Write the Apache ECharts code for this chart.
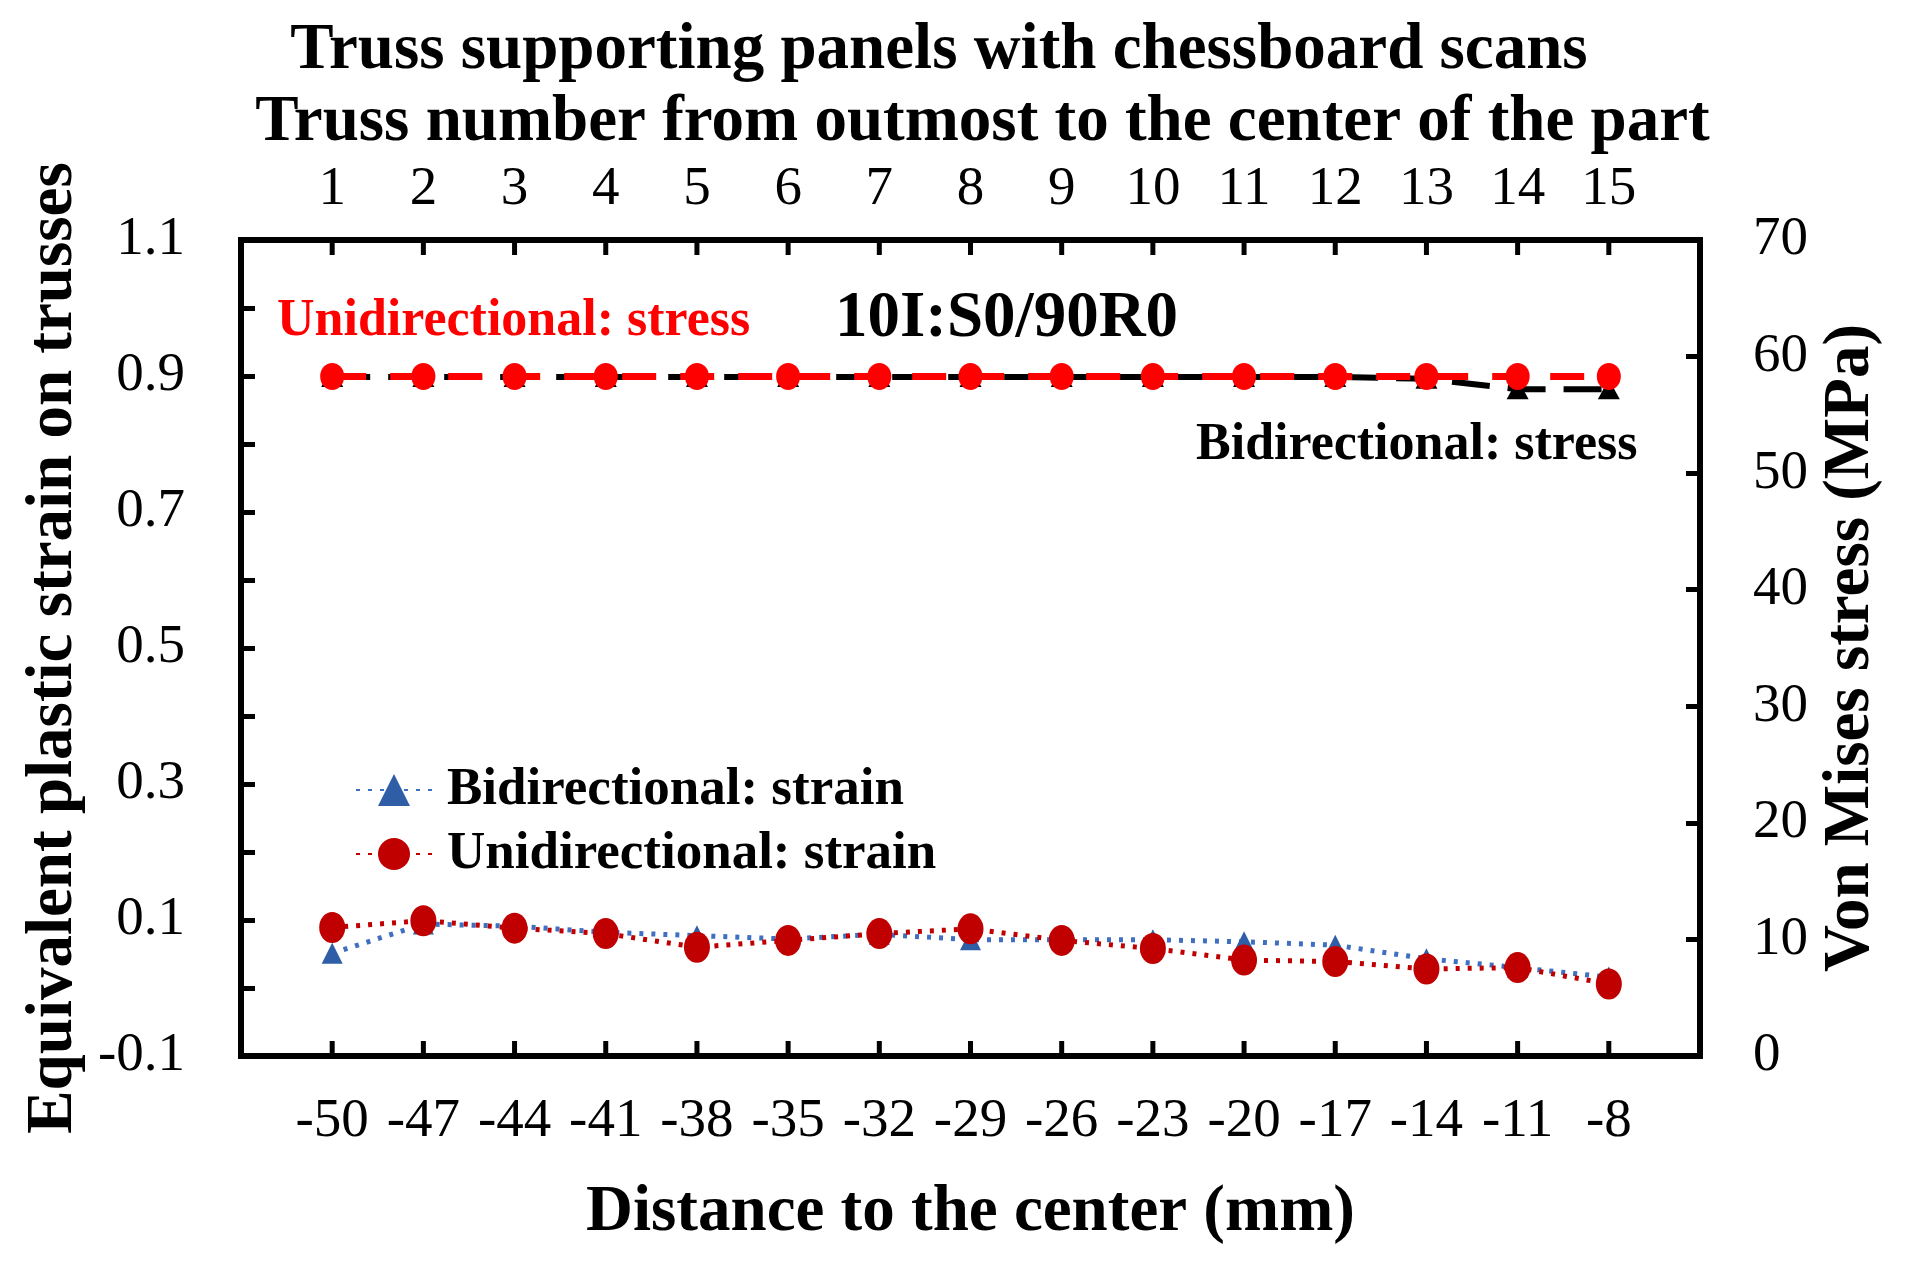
<!DOCTYPE html>
<html>
<head>
<meta charset="utf-8">
<script src="https://cdn.jsdelivr.net/npm/echarts@6/dist/echarts.min.js"></script>
<style>
html,body{margin:0;padding:0;background:#fff;}
#chart{width:1907px;height:1262px;}
</style>
</head>
<body>
<div id="chart"></div>
<script>
// ---- data ----
const distances = [-50, -47, -44, -41, -38, -35, -32, -29, -26, -23, -20, -17, -14, -11, -8];
const trussNumbers = [1, 2, 3, 4, 5, 6, 7, 8, 9, 10, 11, 12, 13, 14, 15];
const bidirStrain = [0.051, 0.094, 0.091, 0.082, 0.077, 0.072, 0.079, 0.071, 0.071, 0.071, 0.068, 0.063, 0.043, 0.030, 0.016];
const unidirStrain = [0.089, 0.099, 0.088, 0.080, 0.060, 0.070, 0.080, 0.087, 0.070, 0.058, 0.041, 0.039, 0.028, 0.030, 0.006];
const bidirStress = [58.25, 58.25, 58.25, 58.25, 58.25, 58.25, 58.25, 58.25, 58.25, 58.25, 58.25, 58.25, 58.1, 57.2, 57.2];
const unidirStress = [58.3, 58.3, 58.3, 58.3, 58.3, 58.3, 58.3, 58.3, 58.3, 58.3, 58.3, 58.3, 58.3, 58.3, 58.3];
const leftTicks = ['-0.1', '0.1', '0.3', '0.5', '0.7', '0.9', '1.1'];
const strainRange = [-0.1, 1.1];

const FONT = "'Liberation Serif', 'Times New Roman', serif";
const pair = (vals) => distances.map((d, i) => [d, vals[i]]);

const chart = echarts.init(document.getElementById('chart'), null, {renderer: 'canvas'});

const tickCommon = {show: true, inside: true, length: 14, lineStyle: {color: '#000', width: 5}};
const lineOn = {show: true, onZero: false, lineStyle: {color: '#000', width: 6, cap: 'square'}};
const labelCommon = {color: '#000', fontFamily: FONT, fontSize: 55};
const nameCommon = {color: '#000', fontFamily: FONT, fontSize: 65, fontWeight: 'bold', verticalAlign: 'middle'};

const textGraphics = [
  {id: 't1', type: 'text', x: 939, y: 51, style: {text: 'Truss supporting panels with chessboard scans', fill: '#000', font: "bold 65px " + FONT, textAlign: 'center', textVerticalAlign: 'middle'}},
  {id: 't2', type: 'text', x: 277, y: 322, style: {text: 'Unidirectional: stress', fill: '#ff0000', font: "bold 52px " + FONT, textAlign: 'left', textVerticalAlign: 'middle'}},
  {id: 't3', type: 'text', x: 835, y: 319, style: {text: '10I:S0/90R0', fill: '#000', font: "bold 65px " + FONT, textAlign: 'left', textVerticalAlign: 'middle'}},
  {id: 't4', type: 'text', x: 1196, y: 446, style: {text: 'Bidirectional: stress', fill: '#000', font: "bold 52px " + FONT, textAlign: 'left', textVerticalAlign: 'middle'}}
];

const option = {
  animation: false,
  backgroundColor: '#fff',
  grid: {left: 241, right: 207, top: 240, bottom: 206, show: false},
  graphic: textGraphics,
  legend: {
    orient: 'vertical',
    left: 350, top: 758,
    itemWidth: 76, itemHeight: 40, itemGap: 10,
    data: ['Bidirectional: strain', 'Unidirectional: strain'],
    textStyle: {color: '#000', fontFamily: FONT, fontSize: 53, fontWeight: 'bold', lineHeight: 54, padding: [0, 0, 0, 10]}
  },
  xAxis: [
    {
      type: 'value', position: 'bottom', min: -53, max: -5, interval: 3,
      axisLine: lineOn, splitLine: {show: false},
      axisTick: {show: false},
      axisLabel: Object.assign({}, labelCommon, {margin: 66, verticalAlign: 'middle',
        formatter: v => distances.indexOf(Math.round(v)) >= 0 ? String(Math.round(v)) : ''}),
      name: 'Distance to the center (mm)', nameLocation: 'middle', nameGap: 157,
      nameTextStyle: nameCommon
    },
    {
      type: 'value', position: 'top', min: 0, max: 16, interval: 1,
      axisLine: lineOn, splitLine: {show: false},
      axisTick: {show: false},
      axisLabel: Object.assign({}, labelCommon, {margin: 50, verticalAlign: 'middle',
        formatter: v => trussNumbers.indexOf(Math.round(v)) >= 0 ? String(Math.round(v)) : ''}),
      name: 'Truss number from outmost to the center of the part', nameLocation: 'middle', nameGap: 117,
      nameTextStyle: Object.assign({}, nameCommon, {padding: [0, 0, 0, 24]})
    }
  ],
  yAxis: [
    {
      type: 'value', position: 'left', min: strainRange[0], max: strainRange[1], interval: 0.1,
      axisLine: lineOn, splitLine: {show: false},
      axisTick: tickCommon,
      axisLabel: Object.assign({}, labelCommon, {margin: 56,
        formatter: v => { const s = v.toFixed(1); return leftTicks.indexOf(s) >= 0 ? s : ''; }}),
      name: 'Equivalent plastic strain on trusses', nameLocation: 'middle', nameGap: 186, nameRotate: 90,
      nameTextStyle: nameCommon
    },
    {
      type: 'value', position: 'right', min: 0, max: 70, interval: 10,
      axisLine: lineOn, splitLine: {show: false},
      axisTick: tickCommon,
      axisLabel: Object.assign({}, labelCommon, {margin: 53}),
      name: 'Von Mises stress (MPa)', nameLocation: 'middle', nameGap: 149, nameRotate: 90,
      nameTextStyle: nameCommon
    }
  ],
  series: [
    {
      name: 'Bidirectional: stress', type: 'line', xAxisIndex: 0, yAxisIndex: 1,
      data: pair(bidirStress), symbol: 'triangle', symbolSize: [22, 20],
      itemStyle: {color: '#000'}, lineStyle: {color: '#000', width: 6, type: [38, 18]}, z: 2
    },
    {
      name: 'Unidirectional: stress', type: 'line', xAxisIndex: 0, yAxisIndex: 1,
      data: pair(unidirStress), symbol: 'circle', symbolSize: [24, 27],
      itemStyle: {color: '#ff0000'}, lineStyle: {color: '#ff0000', width: 7, type: [34, 24]}, z: 3
    },
    {
      name: 'Bidirectional: strain', type: 'line', xAxisIndex: 0, yAxisIndex: 0,
      data: pair(bidirStrain), symbol: 'triangle', symbolSize: [21, 21],
      itemStyle: {color: '#2f5ea6'}, lineStyle: {color: '#3f6fc0', width: 5, type: [4, 8]}, z: 4
    },
    {
      name: 'Unidirectional: strain', type: 'line', xAxisIndex: 0, yAxisIndex: 0,
      data: pair(unidirStrain), symbol: 'circle', symbolSize: [26, 31],
      itemStyle: {color: '#c00000'}, lineStyle: {color: '#c00000', width: 5, type: [4, 8]}, z: 5
    }
  ]
};
chart.setOption(option);

// inward tick marks on the horizontal axes, positioned through the grid's own scales
// (the top truss ticks coincide with the bottom distance ticks)
const tickGraphics = [];
distances.forEach((d, i) => {
  let pb = null, pt = null;
  try { pb = chart.convertToPixel({gridIndex: 0}, [d, strainRange[0]]); } catch (e) {}
  try { pt = chart.convertToPixel({gridIndex: 0}, [d, strainRange[1]]); } catch (e) {}
  if (pb && isFinite(pb[0]) && isFinite(pb[1])) {
    tickGraphics.push({id: 'bt' + i, type: 'rect', z: 100, zlevel: 0, silent: true,
      shape: {x: pb[0] - 2.5, y: pb[1] - 15, width: 5, height: 15}, style: {fill: '#000'}});
  }
  if (pt && isFinite(pt[0]) && isFinite(pt[1])) {
    tickGraphics.push({id: 'tt' + i, type: 'rect', z: 100, zlevel: 0, silent: true,
      shape: {x: pt[0] - 2.5, y: pt[1], width: 5, height: 15}, style: {fill: '#000'}});
  }
});
chart.setOption({graphic: textGraphics.concat(tickGraphics)});
</script>
</body>
</html>
